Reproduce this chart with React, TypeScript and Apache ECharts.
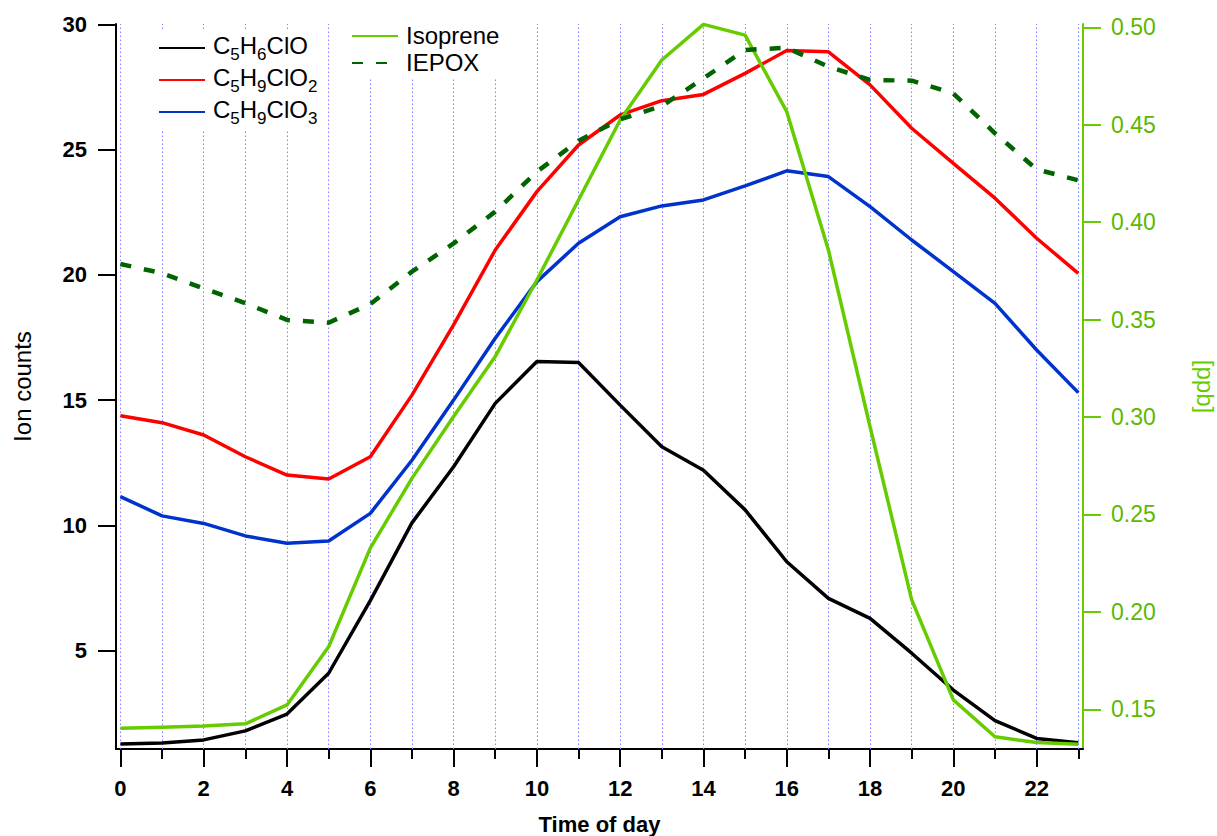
import React, { useEffect, useRef } from 'react';
import * as echarts from 'echarts';

const hours = [0, 1, 2, 3, 4, 5, 6, 7, 8, 9, 10, 11, 12, 13, 14, 15, 16, 17, 18, 19, 20, 21, 22, 23];
const c5h6clo = [1.28, 1.32, 1.44, 1.8, 2.47, 4.1, 7.0, 10.1, 12.34, 14.87, 16.54, 16.5, 14.8, 13.14, 12.2, 10.62, 8.55, 7.09, 6.29, 4.9, 3.43, 2.21, 1.5, 1.33];
const c5h9clo2 = [14.38, 14.1, 13.61, 12.74, 12.01, 11.85, 12.74, 15.2, 18.0, 20.99, 23.32, 25.18, 26.38, 26.95, 27.2, 28.04, 28.95, 28.9, 27.58, 25.85, 24.45, 23.06, 21.46, 20.06];
const c5h9clo3 = [11.15, 10.38, 10.08, 9.58, 9.29, 9.38, 10.48, 12.6, 15.0, 17.47, 19.73, 21.26, 22.32, 22.75, 22.99, 23.55, 24.15, 23.92, 22.72, 21.39, 20.13, 18.86, 17.0, 15.3];
const isoprene = [0.1402, 0.1408, 0.1414, 0.1425, 0.1522, 0.1821, 0.2327, 0.2685, 0.3002, 0.331, 0.3703, 0.4114, 0.4524, 0.4832, 0.5015, 0.496, 0.4567, 0.3857, 0.295, 0.2061, 0.1548, 0.1359, 0.1329, 0.132];
const iepox = [0.3785, 0.3738, 0.366, 0.3584, 0.3498, 0.3484, 0.358, 0.3746, 0.3891, 0.4054, 0.4259, 0.4418, 0.4528, 0.4596, 0.4738, 0.4884, 0.4895, 0.4798, 0.473, 0.4726, 0.4661, 0.4456, 0.4271, 0.4215];

const xMajorTicks = [0, 2, 4, 6, 8, 10, 12, 14, 16, 18, 20, 22];
const xMinorTicks = [1, 3, 5, 7, 9, 11, 13, 15, 17, 19, 21, 23];
const leftTicks = [5, 10, 15, 20, 25, 30];
const rightTicks = [0.15, 0.2, 0.25, 0.3, 0.35, 0.4, 0.45, 0.5];

const FONT = '"Liberation Sans", Arial, sans-serif';
const GREEN = '#66cc00';
const GRIDBLUE = '#8080ff';

const legendLabels: Record<string, string> = {
  C5H6ClO: '{f|C}{s|5}{n|H}{s|6}{n|ClO}',
  C5H9ClO2: '{f|C}{s|5}{n|H}{s|9}{n|ClO}{s|2}',
  C5H9ClO3: '{f|C}{s|5}{n|H}{s|9}{n|ClO}{s|3}',
  Isoprene: '{f|Isoprene}',
  IEPOX: '{f|IEPOX}',
};

export default function App() {
  const ref = useRef<HTMLDivElement>(null);
  useEffect(() => {
    if (!ref.current) return;
    const chart = echarts.init(ref.current, undefined, { renderer: 'svg' });
    const pts = (arr: number[]) => hours.map((h, i) => [h, arr[i]]);
    const richStyles = {
      f: { fontFamily: FONT, fontSize: 24, color: '#000', lineHeight: 26, verticalAlign: 'top', padding: [0, 0, 0, 3] },
      n: { fontFamily: FONT, fontSize: 24, color: '#000', lineHeight: 26, verticalAlign: 'top' },
      s: { fontFamily: FONT, fontSize: 17, color: '#000', lineHeight: 30, verticalAlign: 'bottom' },
    };
    const option: any = {
      animation: false,
      backgroundColor: '#fff',
      textStyle: { fontFamily: FONT },
      grid: { left: 116, top: 24, right: 134, bottom: 87, containLabel: false, outerBoundsMode: 'none' },
      legend: [
        {
          data: ['C5H6ClO', 'C5H9ClO2', 'C5H9ClO3'],
          orient: 'vertical',
          left: 150,
          top: 29,
          itemWidth: 46,
          itemHeight: 14,
          itemGap: 2,
          padding: [4, 8],
          backgroundColor: '#fff',
          itemStyle: { opacity: 0 },
          formatter: (name: string) => legendLabels[name] || name,
          textStyle: { fontFamily: FONT, color: '#000', rich: richStyles },
        },
        {
          data: ['Isoprene', 'IEPOX'],
          orient: 'vertical',
          left: 343,
          top: 19,
          itemWidth: 46,
          itemHeight: 14,
          itemGap: 3,
          padding: [4, 8],
          backgroundColor: '#fff',
          itemStyle: { opacity: 0 },
          formatter: (name: string) => legendLabels[name] || name,
          textStyle: { fontFamily: FONT, color: '#000', rich: richStyles },
        },
      ],
      xAxis: [
        {
          type: 'value',
          min: -0.106,
          max: 23.113,
          position: 'bottom',
          name: 'Time of day',
          nameLocation: 'middle',
          nameGap: 64,
          nameTextStyle: { fontFamily: FONT, fontSize: 22, fontWeight: 'bold', color: '#000' },
          axisLine: { show: true, onZero: false, lineStyle: { color: '#000', width: 2 } },
          axisTick: { show: true, customValues: xMajorTicks, length: 18, inside: false, lineStyle: { color: '#000', width: 2 } },
          axisLabel: { show: true, customValues: xMajorTicks, margin: 28, fontFamily: FONT, fontSize: 22, fontWeight: 'bold', color: '#000' },
          splitLine: { show: false },
        },
        {
          type: 'value',
          min: -0.106,
          max: 23.113,
          position: 'bottom',
          axisLine: { show: false, onZero: false },
          axisTick: { show: true, customValues: xMinorTicks, length: 10, inside: false, lineStyle: { color: '#000', width: 2 } },
          axisLabel: { show: false },
          splitLine: { show: false },
        },
      ],
      yAxis: [
        {
          type: 'value',
          min: 1.077,
          max: 30.01,
          position: 'left',
          name: 'Ion counts',
          nameLocation: 'middle',
          nameGap: 82,
          nameRotate: 90,
          nameTextStyle: { fontFamily: FONT, fontSize: 24, color: '#000' },
          axisLine: { show: true, onZero: false, lineStyle: { color: '#000', width: 2 } },
          axisTick: { show: true, customValues: leftTicks, length: 18, inside: false, lineStyle: { color: '#000', width: 2 } },
          axisLabel: { show: true, customValues: leftTicks, margin: 29, fontFamily: FONT, fontSize: 22, fontWeight: 'bold', color: '#000' },
          splitLine: { show: false },
        },
        {
          type: 'value',
          min: 0.1296,
          max: 0.5017,
          position: 'right',
          name: '[ppb]',
          nameLocation: 'middle',
          nameGap: 110,
          nameRotate: -90,
          nameTextStyle: { fontFamily: FONT, fontSize: 24, color: GREEN },
          axisLine: { show: true, onZero: false, lineStyle: { color: GREEN, width: 2 } },
          axisTick: { show: true, customValues: rightTicks, length: 18, inside: false, lineStyle: { color: GREEN, width: 2 } },
          axisLabel: {
            show: true,
            customValues: rightTicks,
            margin: 28,
            fontFamily: FONT,
            fontSize: 23,
            color: '#5cb800',
            formatter: (v: number) => v.toFixed(2),
          },
          splitLine: { show: false },
        },
      ],
      series: [
        {
          name: 'C5H6ClO',
          type: 'line',
          data: pts(c5h6clo),
          symbol: 'none',
          lineStyle: { color: '#000', width: 3.5 },
          itemStyle: { color: '#000' },
          z: 3,
          markLine: {
            silent: true,
            symbol: ['none', 'none'],
            label: { show: false },
            emphasis: { disabled: true },
            lineStyle: { type: [1.5, 2.5], color: GRIDBLUE, width: 1, opacity: 1 },
            data: hours.map((h) => ({ xAxis: h, lineStyle: { type: [1.5, 2.5], color: GRIDBLUE, width: 1 } })),
            z: 1,
          },
        },
        {
          name: 'C5H9ClO2',
          type: 'line',
          data: pts(c5h9clo2),
          symbol: 'none',
          lineStyle: { color: '#ff0000', width: 3.5 },
          itemStyle: { color: '#ff0000' },
          z: 3,
        },
        {
          name: 'C5H9ClO3',
          type: 'line',
          data: pts(c5h9clo3),
          symbol: 'none',
          lineStyle: { color: '#0033cc', width: 3.5 },
          itemStyle: { color: '#0033cc' },
          z: 3,
        },
        {
          name: 'Isoprene',
          type: 'line',
          yAxisIndex: 1,
          data: pts(isoprene),
          symbol: 'none',
          lineStyle: { color: GREEN, width: 3.5 },
          itemStyle: { color: GREEN },
          z: 3,
        },
        {
          name: 'IEPOX',
          type: 'line',
          yAxisIndex: 1,
          data: pts(iepox),
          symbol: 'none',
          lineStyle: { color: '#006400', width: 4.5, type: [11, 13] },
          itemStyle: { color: '#006400' },
          z: 3,
        },
      ],
    };
    chart.setOption(option);
    return () => chart.dispose();
  }, []);
  return <div ref={ref} style={{ position: 'fixed', left: 0, top: 0, width: 1217, height: 836 }} />;
}
